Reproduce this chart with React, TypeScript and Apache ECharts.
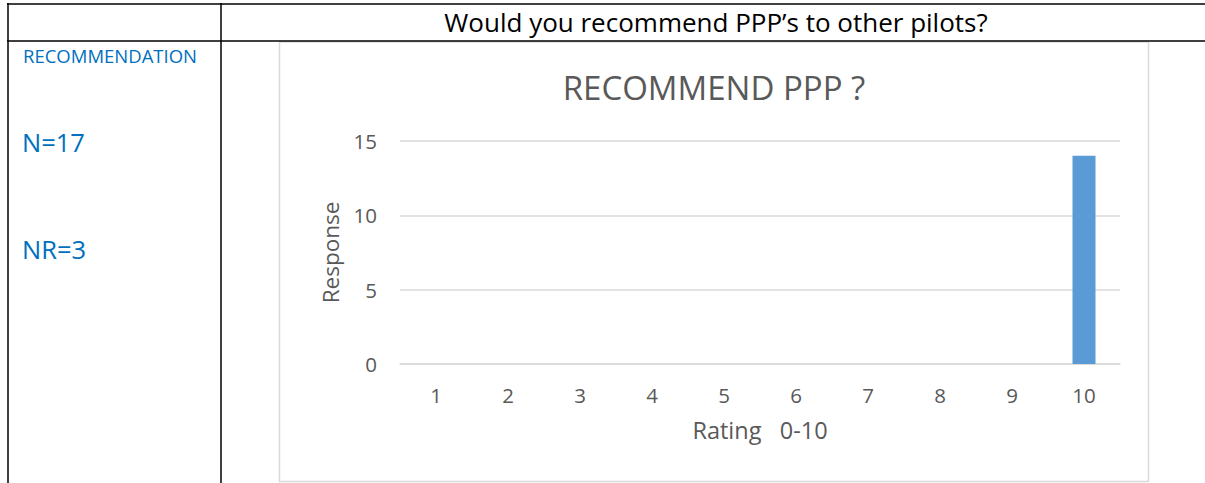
import React, { useEffect, useRef } from "react";
import * as echarts from "echarts";

const categories = ["1", "2", "3", "4", "5", "6", "7", "8", "9", "10"];
const responses = [0, 0, 0, 0, 0, 0, 0, 0, 0, 14];
const yTicks = { min: 0, max: 15, interval: 5 };
const headerText = "Would you recommend PPP’s to other pilots?";
const sideLabels = ["RECOMMENDATION", "N=17", "NR=3"];
const chartTitle = "RECOMMEND PPP ?";
const xName = "Rating   0-10";
const yName = "Response";

const FONT = "'Open Sans', 'Noto Sans', sans-serif";
const GRAY = "#595959";
const BLUE = "#0070C0";

export default function App() {
  const ref = useRef<HTMLDivElement>(null);
  useEffect(() => {
    if (!ref.current) return;
    const chart = echarts.init(ref.current, null, { renderer: "svg" });
    chart.setOption({
      animation: false,
      backgroundColor: "#ffffff",
      textStyle: { fontFamily: FONT },
      grid: { left: 400, right: 85, top: 141, bottom: 119, containLabel: false },
      xAxis: {
        type: "category",
        data: categories,
        axisLine: { show: true, lineStyle: { color: "#d9d9d9", width: 1.5 } },
        axisTick: { show: false },
        axisLabel: { color: GRAY, fontSize: 20.5, margin: 20, fontFamily: FONT },
        name: xName,
        nameLocation: "middle",
        nameGap: 54,
        nameTextStyle: { color: GRAY, fontSize: 23.5, fontFamily: FONT },
      },
      yAxis: {
        type: "value",
        min: yTicks.min,
        max: yTicks.max,
        interval: yTicks.interval,
        axisLine: { show: false },
        axisTick: { show: false },
        splitLine: { lineStyle: { color: "#d9d9d9", width: 1.5 } },
        axisLabel: { color: GRAY, fontSize: 20.5, margin: 23, fontFamily: FONT },
        name: yName,
        nameLocation: "middle",
        nameRotate: 90,
        nameGap: 58,
        nameTextStyle: { color: GRAY, fontSize: 22.5, fontFamily: FONT },
      },
      series: [
        {
          type: "bar",
          data: responses,
          barWidth: 23,
          itemStyle: { color: "#5B9BD5" },
        },
      ],
      graphic: [
        { type: "rect", z: -1, shape: { x: 279.5, y: 42, width: 869, height: 439.5 }, style: { fill: "#ffffff", stroke: "#d9d9d9", lineWidth: 1.5 } },
        { type: "line", shape: { x1: 7, y1: 4, x2: 1205, y2: 4 }, style: { stroke: "#000", lineWidth: 1.5 } },
        { type: "line", shape: { x1: 7, y1: 41, x2: 1205, y2: 41 }, style: { stroke: "#000", lineWidth: 1.5 } },
        { type: "line", shape: { x1: 8, y1: 3, x2: 8, y2: 483 }, style: { stroke: "#000", lineWidth: 1.5 } },
        { type: "line", shape: { x1: 221, y1: 3, x2: 221, y2: 483 }, style: { stroke: "#000", lineWidth: 1.5 } },
        { type: "text", x: 716, y: 22, style: { text: headerText, font: `26px ${FONT}`, fill: "#000", align: "center", verticalAlign: "middle" } },
        { type: "text", x: 23, y: 55, style: { text: sideLabels[0], font: `18.5px ${FONT}`, fill: BLUE, align: "left", verticalAlign: "middle" } },
        { type: "text", x: 22, y: 142, style: { text: sideLabels[1], font: `25.5px ${FONT}`, fill: BLUE, align: "left", verticalAlign: "middle" } },
        { type: "text", x: 22, y: 249, style: { text: sideLabels[2], font: `25.5px ${FONT}`, fill: BLUE, align: "left", verticalAlign: "middle" } },
        { type: "text", x: 714, y: 87, style: { text: chartTitle, font: `33px ${FONT}`, fill: GRAY, align: "center", verticalAlign: "middle" } },
      ],
    });
    return () => chart.dispose();
  }, []);
  return (
    <div
      ref={ref}
      style={{ position: "fixed", left: 0, top: 0, width: 1205, height: 483 }}
    />
  );
}
